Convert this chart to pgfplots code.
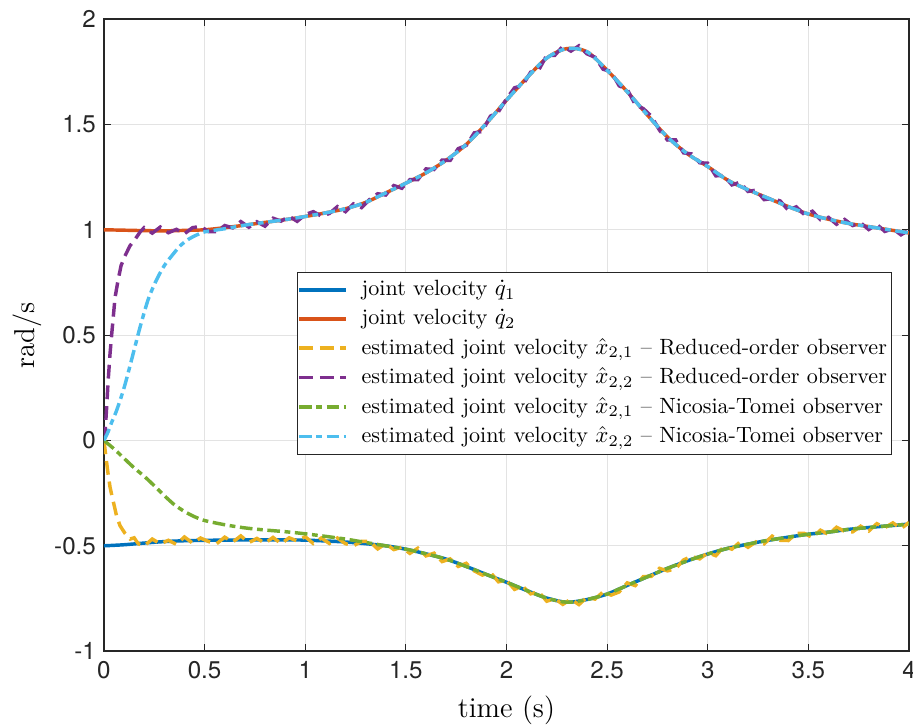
\documentclass[border=0pt]{standalone}
\usepackage{fontspec}
\usepackage{amsmath}
\usepackage{pgfplots}
\pgfplotsset{compat=1.18}
\usetikzlibrary{calc}
\newfontfamily\heros{TeX Gyre Heros}
\definecolor{mblue}{rgb}{0,0.447,0.741}
\definecolor{morange}{rgb}{0.85,0.325,0.098}
\definecolor{myellow}{rgb}{0.929,0.694,0.125}
\definecolor{mpurple}{rgb}{0.494,0.184,0.556}
\definecolor{mgreen}{rgb}{0.466,0.674,0.188}
\definecolor{mcyan}{rgb}{0.301,0.745,0.933}
\definecolor{gridc}{HTML}{E3E3E3}
\definecolor{axc}{HTML}{262626}

\begin{document}
\begin{tikzpicture}
\begin{axis}[
  scale only axis,
  width=350pt, height=274.8pt,
  xmin=0, xmax=4, ymin=-1, ymax=2,
  xtick={0,0.5,...,4},
  ytick={-1,-0.5,0,0.5,1,1.5,2},
  grid=major,
  major grid style={draw=gridc,line width=0.5pt},
  axis line style={draw=axc,line width=0.6pt},
  major tick length=3pt,
  tick style={draw=axc,line width=0.5pt},
  /pgf/number format/assume math mode=true,
  tick label style={font=\heros\fontsize{10.5}{12}\selectfont, text=axc},
  xticklabel style={yshift=-1pt},
  xlabel={time (s)},
  ylabel={rad/s},
  label style={font=\fontsize{12.5}{14}\selectfont},
  xlabel style={at={(axis description cs:0.5,-0.0936)}, anchor=center},
  ylabel style={at={(axis description cs:-0.0957,0.5)}, anchor=center},
  legend style={at={(0.979,0.6)}, anchor=north east, draw=axc, line width=0.5pt,
    fill=white, font=\fontsize{9.6}{11.5}\selectfont, inner xsep=0pt, inner ysep=1.5pt,
    row sep=0.4pt},
  legend cell align=left,
  legend image code/.code={\draw[#1] (0cm,0cm) -- (0.72cm,0cm); \path (0.86cm,0cm);},
  every axis plot/.append style={line width=1.5pt},
]
% joint velocity q1
\addplot[mblue, smooth] coordinates {
(0,-0.500) (0.1,-0.495) (0.2,-0.487) (0.3,-0.480) (0.4,-0.476) (0.5,-0.474)
(0.6,-0.473) (0.7,-0.472) (0.8,-0.472) (0.9,-0.472) (1.0,-0.473) (1.1,-0.477)
(1.2,-0.482) (1.3,-0.490) (1.4,-0.500) (1.5,-0.516) (1.6,-0.538) (1.7,-0.563)
(1.8,-0.598) (1.9,-0.636) (2.0,-0.673) (2.1,-0.712) (2.2,-0.748) (2.3,-0.768)
(2.4,-0.755) (2.5,-0.729) (2.6,-0.688) (2.7,-0.647) (2.8,-0.607) (2.9,-0.571)
(3.0,-0.539) (3.1,-0.512) (3.2,-0.492) (3.3,-0.474) (3.4,-0.459) (3.5,-0.445)
(3.6,-0.435) (3.7,-0.422) (3.8,-0.413) (3.9,-0.405) (4.0,-0.397)};
\addlegendentry{joint velocity $\dot{q}_1$}
% joint velocity q2
\addplot[morange, smooth] coordinates {
(0,1.000) (0.1,0.998) (0.2,0.996) (0.3,0.995) (0.4,0.997) (0.5,1.000)
(0.6,1.010) (0.7,1.022) (0.8,1.035) (0.9,1.048) (1.0,1.063) (1.1,1.080)
(1.2,1.100) (1.3,1.130) (1.4,1.175) (1.5,1.221) (1.6,1.270) (1.7,1.330)
(1.8,1.405) (1.9,1.505) (2.0,1.615) (2.1,1.720) (2.2,1.815) (2.3,1.860)
(2.4,1.845) (2.5,1.757) (2.6,1.655) (2.7,1.545) (2.8,1.440) (2.9,1.360)
(3.0,1.300) (3.1,1.235) (3.2,1.190) (3.3,1.150) (3.4,1.110) (3.5,1.075)
(3.6,1.050) (3.7,1.030) (3.8,1.015) (3.9,1.000) (4.0,0.985)};
\addlegendentry{joint velocity $\dot{q}_2$}
% reduced-order observer, x21 (noisy)
\addplot[myellow, dash pattern=on 6pt off 3pt] coordinates {
(0,0) (0.01,-0.08) (0.02,-0.155) (0.03,-0.22) (0.04,-0.265) (0.05,-0.305)
(0.063,-0.36) (0.08,-0.405) (0.104,-0.44) (0.13,-0.468) (0.15,-0.462) (0.17,-0.490)
(0.20,-0.500) (0.24,-0.468) (0.28,-0.491) (0.32,-0.474) (0.36,-0.493) (0.40,-0.458)
(0.44,-0.487) (0.48,-0.463) (0.52,-0.480) (0.56,-0.490) (0.60,-0.459) (0.64,-0.482)
(0.68,-0.453) (0.72,-0.485) (0.76,-0.465) (0.80,-0.488) (0.84,-0.460) (0.88,-0.490)
(0.92,-0.462) (0.96,-0.477) (1.00,-0.457) (1.04,-0.489) (1.08,-0.463) (1.12,-0.489)
(1.16,-0.463) (1.20,-0.490) (1.24,-0.500) (1.28,-0.479) (1.32,-0.478) (1.36,-0.515)
(1.40,-0.489) (1.44,-0.518) (1.48,-0.507) (1.52,-0.536) (1.56,-0.511) (1.60,-0.548)
(1.64,-0.535) (1.68,-0.575) (1.72,-0.562) (1.76,-0.598) (1.80,-0.583) (1.84,-0.619)
(1.88,-0.639) (1.92,-0.626) (1.96,-0.671) (2.00,-0.663) (2.04,-0.707) (2.08,-0.692)
(2.12,-0.728) (2.16,-0.718) (2.20,-0.763) (2.24,-0.751) (2.28,-0.778) (2.32,-0.753)
(2.36,-0.779) (2.40,-0.744) (2.44,-0.753) (2.48,-0.719) (2.52,-0.734) (2.56,-0.719)
(2.60,-0.676) (2.64,-0.689) (2.68,-0.646) (2.72,-0.645) (2.76,-0.607) (2.80,-0.619)
(2.84,-0.609) (2.88,-0.567) (2.92,-0.550) (2.96,-0.562) (3.00,-0.533) (3.04,-0.547)
(3.08,-0.504) (3.12,-0.516) (3.16,-0.482) (3.20,-0.507) (3.24,-0.481) (3.28,-0.491)
(3.32,-0.454) (3.36,-0.474) (3.40,-0.475) (3.44,-0.441) (3.48,-0.441) (3.52,-0.461)
(3.56,-0.426) (3.60,-0.446) (3.64,-0.412) (3.68,-0.431) (3.72,-0.434) (3.76,-0.407)
(3.80,-0.430) (3.84,-0.395) (3.88,-0.414) (3.92,-0.391) (3.96,-0.419) (4.00,-0.389)};
\addlegendentry{estimated joint velocity $\hat{x}_{2,1}$ -- Reduced-order observer}
% reduced-order observer, x22 (noisy)
\addplot[mpurple, dash pattern=on 6pt off 3pt] coordinates {
(0,0) (0.005,0.03) (0.013,0.15) (0.02,0.27) (0.03,0.41) (0.04,0.52) (0.055,0.678)
(0.07,0.76) (0.085,0.83) (0.104,0.875) (0.13,0.925) (0.154,0.954) (0.18,0.990)
(0.20,1.010) (0.24,0.984) (0.28,1.013) (0.32,0.986) (0.36,1.002) (0.40,0.981)
(0.44,1.010) (0.48,1.016) (0.52,0.991) (0.56,0.991) (0.60,1.020) (0.64,1.009)
(0.68,1.039) (0.72,1.012) (0.76,1.038) (0.80,1.017) (0.84,1.055) (0.88,1.041)
(0.92,1.064) (0.96,1.040) (1.00,1.072) (1.04,1.086) (1.08,1.065) (1.12,1.077)
(1.16,1.110) (1.20,1.086) (1.24,1.123) (1.28,1.105) (1.32,1.144) (1.36,1.171)
(1.40,1.165) (1.44,1.210) (1.48,1.197) (1.52,1.238) (1.56,1.238) (1.60,1.289)
(1.64,1.286) (1.68,1.331) (1.72,1.329) (1.76,1.385) (1.80,1.400) (1.84,1.460)
(1.88,1.467) (1.92,1.539) (1.96,1.560) (2.00,1.621) (2.04,1.674) (2.08,1.685)
(2.12,1.748) (2.16,1.758) (2.20,1.828) (2.24,1.828) (2.28,1.871) (2.32,1.848)
(2.36,1.873) (2.40,1.835) (2.44,1.819) (2.48,1.762) (2.52,1.751) (2.56,1.683)
(2.60,1.666) (2.64,1.594) (2.68,1.575) (2.72,1.539) (2.76,1.473) (2.80,1.426)
(2.84,1.427) (2.88,1.365) (2.92,1.360) (2.96,1.318) (3.00,1.316) (3.04,1.256)
(3.08,1.258) (3.12,1.213) (3.16,1.225) (3.20,1.182) (3.24,1.188) (3.28,1.143)
(3.32,1.148) (3.36,1.137) (3.40,1.093) (3.44,1.109) (3.48,1.072) (3.52,1.088)
(3.56,1.048) (3.60,1.059) (3.64,1.026) (3.68,1.049) (3.72,1.020) (3.76,1.033)
(3.80,1.001) (3.84,1.026) (3.88,0.992) (3.92,1.005) (3.96,0.976) (4.00,0.998)};
\addlegendentry{estimated joint velocity $\hat{x}_{2,2}$ -- Reduced-order observer}
% Nicosia-Tomei observer, x21
\addplot[mgreen, smooth, dash pattern=on 5.5pt off 2pt on 2.5pt off 2pt] coordinates {
(0,0) (0.05,-0.04) (0.1,-0.085) (0.15,-0.13) (0.2,-0.17) (0.25,-0.215)
(0.3,-0.262) (0.35,-0.305) (0.4,-0.337) (0.45,-0.362) (0.5,-0.38) (0.6,-0.40)
(0.7,-0.415) (0.8,-0.425) (0.9,-0.433) (1.0,-0.443) (1.1,-0.455) (1.2,-0.468)
(1.3,-0.484) (1.4,-0.500) (1.5,-0.516) (1.6,-0.538) (1.7,-0.563)
(1.8,-0.598) (1.9,-0.636) (2.0,-0.673) (2.1,-0.712) (2.2,-0.748) (2.3,-0.768)
(2.4,-0.755) (2.5,-0.729) (2.6,-0.688) (2.7,-0.647) (2.8,-0.607) (2.9,-0.571)
(3.0,-0.539) (3.1,-0.512) (3.2,-0.492) (3.3,-0.474) (3.4,-0.459) (3.5,-0.445)
(3.6,-0.435) (3.7,-0.422) (3.8,-0.413) (3.9,-0.405) (4.0,-0.397)};
\addlegendentry{estimated joint velocity $\hat{x}_{2,1}$ -- Nicosia-Tomei observer}
% Nicosia-Tomei observer, x22
\addplot[mcyan, smooth, dash pattern=on 5.5pt off 2pt on 2.5pt off 2pt] coordinates {
(0,0) (0.02,0.04) (0.04,0.09) (0.06,0.135) (0.08,0.19) (0.1,0.25) (0.12,0.32)
(0.15,0.43) (0.18,0.54) (0.22,0.67) (0.26,0.76) (0.3,0.83) (0.34,0.88)
(0.38,0.925) (0.42,0.955) (0.46,0.975) (0.5,0.99) (0.6,1.005) (0.7,1.022)
(0.8,1.035) (0.9,1.048) (1.0,1.063) (1.1,1.080)
(1.2,1.100) (1.3,1.130) (1.4,1.175) (1.5,1.221) (1.6,1.270) (1.7,1.330)
(1.8,1.405) (1.9,1.505) (2.0,1.615) (2.1,1.720) (2.2,1.815) (2.3,1.860)
(2.4,1.845) (2.5,1.757) (2.6,1.655) (2.7,1.545) (2.8,1.440) (2.9,1.360)
(3.0,1.300) (3.1,1.235) (3.2,1.190) (3.3,1.150) (3.4,1.110) (3.5,1.075)
(3.6,1.050) (3.7,1.030) (3.8,1.015) (3.9,1.000) (4.0,0.985)};
\addlegendentry{estimated joint velocity $\hat{x}_{2,2}$ -- Nicosia-Tomei observer}
\end{axis}
\pgfresetboundingbox
\path ($(current axis.south west)+(-45.2pt,-32.2pt)$) rectangle ($(current axis.north east)+(1.74pt,8.3pt)$);
\end{tikzpicture}
\end{document}
